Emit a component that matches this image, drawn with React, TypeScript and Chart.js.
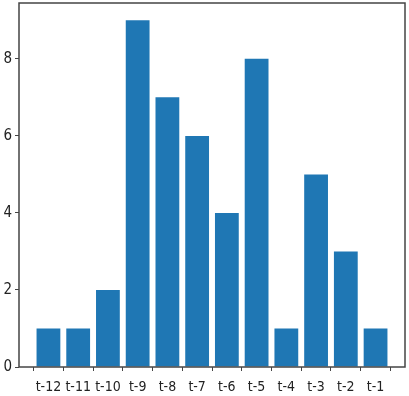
import React, { useEffect, useRef } from "react";
import { Chart, registerables } from "chart.js";

Chart.register(...registerables);

const categories = ["t-12", "t-11", "t-10", "t-9", "t-8", "t-7", "t-6", "t-5", "t-4", "t-3", "t-2", "t-1"];
const values = [1, 1, 2, 9, 7, 6, 4, 8, 1, 5, 3, 1];
const yTicks = [0, 2, 4, 6, 8];

const frame = {
  id: "frame",
  afterDraw(chart: any) {
    const { ctx, chartArea: a } = chart;
    ctx.save();
    ctx.strokeStyle = "#444";
    ctx.lineWidth = 1.5;
    ctx.strokeRect(a.left, a.top, a.right - a.left, a.bottom - a.top);
    ctx.restore();
  },
};

export default function App() {
  const ref = useRef<HTMLCanvasElement | null>(null);
  useEffect(() => {
    const chart = new Chart(ref.current!, {
      type: "bar",
      data: {
        datasets: [
          {
            data: values.map((v, i) => ({ x: i, y: v })),
            backgroundColor: "#1f77b4",
            barPercentage: 0.8,
            categoryPercentage: 1,
          },
        ],
      },
      options: {
        animation: false,
        responsive: false,
        maintainAspectRatio: false,
        layout: { padding: { top: 3, right: 4, left: 0, bottom: 0 } },
        plugins: { legend: { display: false }, tooltip: { enabled: false } },
        scales: {
          x: {
            type: "linear",
            min: -0.99,
            max: categories.length - 1 + 0.99,
            offset: false,
            afterBuildTicks: (s: any) => {
              s.ticks = categories.map((_, i) => ({ value: i }));
            },
            afterFit: (s: any) => {
              s.height = 29;
              s.paddingLeft = 0;
              s.paddingRight = 0;
            },
            ticks: {
              autoSkip: false,
              maxRotation: 0,
              padding: 8,
              color: "#222",
              font: { family: "DejaVu Sans Condensed", size: 14 },
              callback: (v: any) => categories[v] ?? "",
            },
            grid: { drawOnChartArea: false, drawTicks: true, tickLength: 4, tickColor: "#444" },
            border: { display: false },
          },
          y: {
            min: 0,
            max: 9.45,
            afterBuildTicks: (s: any) => {
              s.ticks = yTicks.map((v) => ({ value: v }));
            },
            afterFit: (s: any) => {
              s.width = 19;
              s.paddingTop = 0;
              s.paddingBottom = 0;
            },
            ticks: { padding: 3, color: "#222", font: { family: "DejaVu Sans Condensed", size: 15 } },
            grid: { drawOnChartArea: false, drawTicks: true, tickLength: 4, tickColor: "#444" },
            border: { display: false },
          },
        },
      },
      plugins: [frame],
    } as any);
    return () => chart.destroy();
  }, []);
  return (
    <div style={{ position: "fixed", left: 0, top: 0, width: 409, height: 396, background: "#fff" }}>
      <canvas ref={ref} width={409} height={396} />
    </div>
  );
}
